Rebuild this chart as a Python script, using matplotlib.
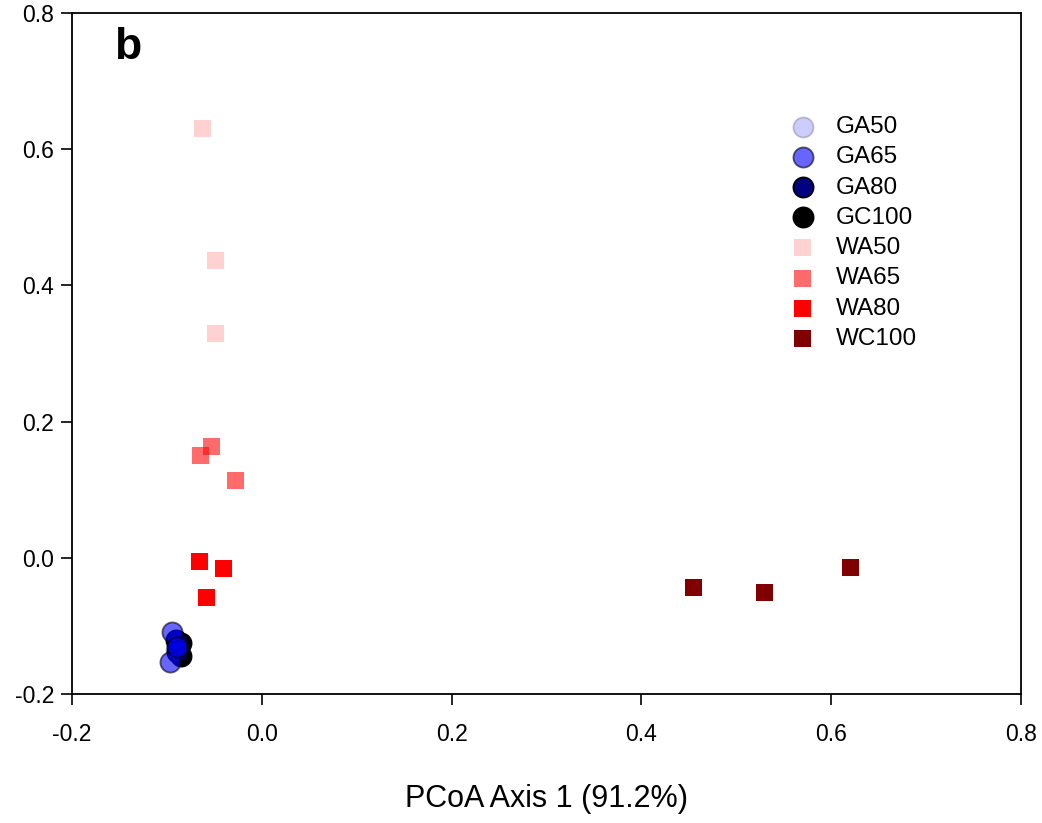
import matplotlib
matplotlib.use("Agg")
import matplotlib.pyplot as plt

plt.rcParams['font.family'] = ['Liberation Sans', 'DejaVu Sans']

groups = ["GA50", "GA65", "GA80", "GC100", "WA50", "WA65", "WA80", "WC100"]
markers = ["o", "o", "o", "o", "s", "s", "s", "s"]
base_colors = ["#0000ff", "#0000ff", "#000080", "#000000", "#ff0000", "#ff0000", "#ff0000", "#800000"]
alphas = [0.2, 0.6, 1.0, 1.0, 0.18, 0.58, 1.0, 1.0]
draw_order = ["GC100", "GA80", "GA50", "GA65", "WA50", "WA65", "WA80", "WC100"]

x_vals = {
    "GA50":  [-0.0894, -0.0904, -0.0883],
    "GA65":  [-0.0946, -0.0967, -0.0894],
    "GA80":  [-0.0883, -0.0894, -0.0904],
    "GC100": [-0.0851, -0.0851, -0.0873],
    "WA50":  [-0.063, -0.049, -0.049],
    "WA65":  [-0.0535, -0.065, -0.028],
    "WA80":  [-0.066, -0.040, -0.058],
    "WC100": [0.455, 0.530, 0.620],
}
y_vals = {
    "GA50":  [-0.1310, -0.1350, -0.1280],
    "GA65":  [-0.1083, -0.1530, -0.1310],
    "GA80":  [-0.1280, -0.1383, -0.1207],
    "GC100": [-0.1251, -0.1442, -0.1325],
    "WA50":  [0.630, 0.437, 0.330],
    "WA65":  [0.164, 0.150, 0.113],
    "WA80":  [-0.006, -0.015, -0.058],
    "WC100": [-0.044, -0.051, -0.0135],
}

fig = plt.figure(figsize=(10.42, 8.23), dpi=100)
ax = fig.add_axes([0.0691, 0.1567, 0.9107, 0.8275])

handles = {}
for g in draw_order:
    i = groups.index(g)
    m = markers[i]
    if m == "o":
        h = ax.scatter(x_vals[g], y_vals[g], marker="o", s=210, c=base_colors[i],
                       edgecolors="#000000", linewidths=1.3, alpha=alphas[i], zorder=3)
    else:
        h = ax.scatter(x_vals[g], y_vals[g], marker="s", s=150, c=base_colors[i],
                       edgecolors="none", alpha=alphas[i], zorder=3)
    handles[g] = h

ax.set_xlim(-0.2, 0.8)
ax.set_ylim(-0.2, 0.8)
ax.set_xticks([-0.2, 0.0, 0.2, 0.4, 0.6, 0.8])
ax.set_yticks([-0.2, 0.0, 0.2, 0.4, 0.6, 0.8])
ax.set_xticklabels(["-0.2", "0.0", "0.2", "0.4", "0.6", "0.8"])
ax.set_yticklabels(["-0.2", "0.0", "0.2", "0.4", "0.6", "0.8"])
ax.tick_params(direction="out", length=8, width=1.2, labelsize=16.5, pad=5)
ax.tick_params(axis="x", pad=13)
for sp in ax.spines.values():
    sp.set_linewidth(1.3)

ax.set_xlabel("PCoA Axis 1 (91.2%)", fontsize=22, labelpad=27)
ax.text(0.044, 0.949, "b", transform=ax.transAxes, fontsize=32, fontweight="bold",
        va="center", ha="left")

leg = ax.legend([handles[g] for g in groups], groups, loc="upper left",
                bbox_to_anchor=(0.734, 0.863), frameon=False,
                fontsize=17.5, handletextpad=0.37, labelspacing=0.34, borderaxespad=0,
                scatterpoints=1)

fig.savefig("out.png", dpi=100)
